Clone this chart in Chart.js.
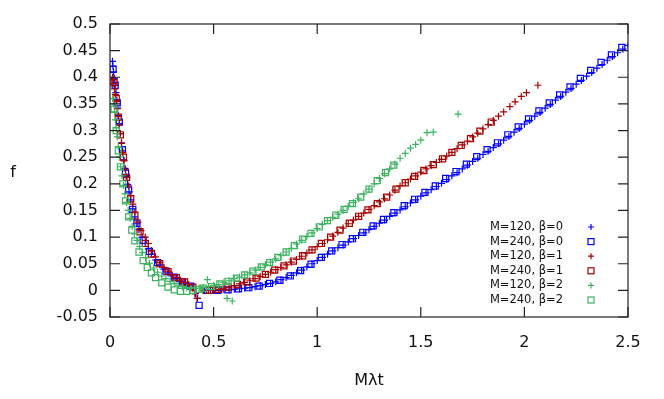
<!DOCTYPE html>
<html>
<head>
<meta charset="utf-8">
<script src="https://cdn.jsdelivr.net/npm/chart.js@4/dist/chart.umd.min.js"></script>
<style>
  html, body { margin: 0; padding: 0; background: #fff; }
  #wrap { width: 664px; height: 399px; }
</style>
</head>
<body>
<div id="wrap"><canvas id="chart" width="664" height="399"></canvas></div>
<script>
// ---- data ----
const xTicks = [0, 0.5, 1, 1.5, 2, 2.5];
const seriesLabels = ['M=120, β=0', 'M=240, β=0', 'M=120, β=1', 'M=240, β=1', 'M=120, β=2', 'M=240, β=2'];

// M=120, beta=0 (blue +)
const b0m120x = [0.012, 0.014, 0.017, 0.021, 0.025, 0.029, 0.033, 0.037, 0.041, 0.045, 0.05, 0.055, 0.06, 0.066, 0.072, 0.078, 0.085, 0.092, 0.1, 0.11, 0.12, 0.13, 0.14, 0.155, 0.17, 0.185, 0.2, 0.22, 0.24, 0.26, 0.28, 0.3, 0.32, 0.34, 0.36, 0.38, 0.4, 0.412, 0.422,
  0.45, 0.475, 0.5, 0.525, 0.55, 0.575, 0.6, 0.625, 0.65, 0.675, 0.7, 0.725, 0.75, 0.775, 0.8, 0.825, 0.85, 0.875, 0.9, 0.925, 0.95, 0.975,
  1.0, 1.025, 1.05, 1.075, 1.1, 1.125, 1.15, 1.175, 1.2, 1.225, 1.25, 1.275, 1.3, 1.325, 1.35, 1.375, 1.4, 1.425, 1.45, 1.475,
  1.5, 1.525, 1.55, 1.575, 1.6, 1.625, 1.65, 1.675, 1.7, 1.725, 1.75, 1.775, 1.8, 1.825, 1.85, 1.875, 1.9, 1.925, 1.95, 1.975,
  2.0, 2.025, 2.05, 2.075, 2.1, 2.125, 2.15, 2.175, 2.2, 2.225, 2.25, 2.275, 2.3, 2.325, 2.35, 2.375, 2.4, 2.425, 2.45, 2.475, 2.5];
const b0m120y = [0.43, 0.421, 0.41, 0.398, 0.385, 0.371, 0.357, 0.342, 0.328, 0.313, 0.294, 0.277, 0.262, 0.245, 0.229, 0.214, 0.199, 0.185, 0.17, 0.153, 0.138, 0.125, 0.114, 0.1, 0.088, 0.078, 0.068, 0.057, 0.048, 0.04, 0.033, 0.027, 0.022, 0.017, 0.013, 0.009, 0.005, -0.006, -0.015,
  0.0, 0.0, 0.0, 0.0, 0.001, 0.001, 0.002, 0.003, 0.004, 0.005, 0.007, 0.009, 0.011, 0.013, 0.016, 0.02, 0.024, 0.028, 0.033, 0.038, 0.044, 0.05,
  0.056, 0.062, 0.068, 0.074, 0.08, 0.085, 0.091, 0.097, 0.103, 0.108, 0.114, 0.12, 0.126, 0.132, 0.139, 0.145, 0.151, 0.157, 0.164, 0.17,
  0.177, 0.183, 0.189, 0.195, 0.201, 0.208, 0.215, 0.221, 0.228, 0.235, 0.242, 0.248, 0.255, 0.261, 0.268, 0.275, 0.282, 0.289, 0.297, 0.304,
  0.312, 0.319, 0.327, 0.334, 0.342, 0.349, 0.357, 0.364, 0.372, 0.379, 0.387, 0.394, 0.402, 0.409, 0.417, 0.424, 0.432, 0.439, 0.446, 0.453, 0.46];

// M=240, beta=0 (blue squares)
const b0m240x = [0.015, 0.025, 0.035, 0.045, 0.06, 0.075, 0.09, 0.11, 0.13, 0.16, 0.19, 0.23, 0.27, 0.31, 0.35, 0.39, 0.43,
  0.47, 0.52, 0.57, 0.62, 0.67, 0.72, 0.77, 0.82, 0.87, 0.92, 0.97, 1.02, 1.07, 1.12, 1.17, 1.22, 1.27, 1.32, 1.37, 1.42,
  1.47, 1.52, 1.57, 1.62, 1.67, 1.72, 1.77, 1.82, 1.87, 1.92, 1.97, 2.02, 2.07, 2.12, 2.17, 2.22, 2.27, 2.32, 2.37, 2.42, 2.47];
const b0m240y = [0.415, 0.385, 0.352, 0.316, 0.264, 0.22, 0.188, 0.152, 0.126, 0.094, 0.073, 0.052, 0.036, 0.025, 0.016, 0.008, -0.028,
  0.0, 0.0, 0.001, 0.003, 0.005, 0.008, 0.013, 0.019, 0.027, 0.037, 0.049, 0.062, 0.074, 0.086, 0.097, 0.109, 0.121, 0.133, 0.146, 0.159,
  0.171, 0.184, 0.196, 0.21, 0.223, 0.237, 0.251, 0.264, 0.277, 0.292, 0.307, 0.322, 0.337, 0.352, 0.367, 0.382, 0.398, 0.413, 0.428, 0.442, 0.456];

// M=120, beta=1 (red +)
const b1m120x = [0.012, 0.015, 0.018, 0.022, 0.026, 0.03, 0.035, 0.04, 0.045, 0.05, 0.056, 0.062, 0.068, 0.075, 0.082, 0.09, 0.1, 0.11, 0.12, 0.135, 0.15, 0.17, 0.185, 0.2, 0.22, 0.24, 0.26, 0.28, 0.3, 0.32, 0.34, 0.36, 0.38, 0.4, 0.41, 0.42,
  0.45, 0.475, 0.5, 0.525, 0.55, 0.575, 0.6, 0.625, 0.65, 0.675, 0.7, 0.725, 0.75, 0.775, 0.8, 0.825, 0.85, 0.875, 0.9, 0.925, 0.95, 0.975,
  1.0, 1.025, 1.05, 1.075, 1.1, 1.125, 1.15, 1.175, 1.2, 1.225, 1.25, 1.275, 1.3, 1.325, 1.35, 1.375, 1.4, 1.425, 1.45, 1.475,
  1.5, 1.525, 1.55, 1.575, 1.6, 1.625, 1.65, 1.675, 1.7, 1.725, 1.75, 1.775, 1.8, 1.825, 1.85, 1.875, 1.9, 1.93, 1.955, 1.985, 2.01, 2.065];
const b1m120y = [0.4, 0.395, 0.388, 0.378, 0.368, 0.356, 0.341, 0.326, 0.31, 0.294, 0.276, 0.259, 0.243, 0.227, 0.212, 0.196, 0.178, 0.162, 0.147, 0.128, 0.112, 0.1, 0.088, 0.075, 0.063, 0.052, 0.043, 0.036, 0.029, 0.024, 0.019, 0.015, 0.011, 0.004, -0.006, -0.015,
  0.0, 0.0, 0.001, 0.002, 0.004, 0.006, 0.009, 0.012, 0.015, 0.018, 0.022, 0.026, 0.03, 0.034, 0.039, 0.043, 0.048, 0.053, 0.058, 0.064, 0.07, 0.076,
  0.082, 0.088, 0.095, 0.102, 0.109, 0.117, 0.125, 0.132, 0.139, 0.145, 0.152, 0.159, 0.166, 0.172, 0.179, 0.188, 0.196, 0.202, 0.209, 0.215,
  0.222, 0.228, 0.234, 0.24, 0.246, 0.252, 0.259, 0.266, 0.273, 0.28, 0.288, 0.295, 0.303, 0.311, 0.319, 0.327, 0.335, 0.345, 0.354, 0.364, 0.371, 0.385];

// M=240, beta=1 (red squares)
const b1m240x = [0.02, 0.03, 0.04, 0.05, 0.065, 0.08, 0.1, 0.12, 0.145, 0.17, 0.2, 0.24, 0.28, 0.32, 0.36, 0.4,
  0.48, 0.525, 0.57, 0.615, 0.66, 0.705, 0.75, 0.795, 0.84, 0.885, 0.93, 0.975, 1.02, 1.065, 1.11, 1.155, 1.2,
  1.245, 1.29, 1.335, 1.38, 1.425, 1.47, 1.515, 1.56, 1.605, 1.65, 1.695, 1.74, 1.785, 1.84];
const b1m240y = [0.39, 0.36, 0.325, 0.292, 0.25, 0.212, 0.172, 0.14, 0.11, 0.088, 0.068, 0.05, 0.035, 0.024, 0.016, 0.006,
  0.0, 0.002, 0.006, 0.011, 0.016, 0.023, 0.03, 0.038, 0.046, 0.055, 0.065, 0.076, 0.088, 0.1, 0.113, 0.126, 0.139,
  0.151, 0.163, 0.175, 0.19, 0.202, 0.214, 0.225, 0.236, 0.247, 0.259, 0.272, 0.285, 0.299, 0.316];

// M=120, beta=2 (green +)
const b2m120x = [0.015, 0.018, 0.022, 0.026, 0.03, 0.035, 0.04, 0.046, 0.052, 0.058, 0.065, 0.072, 0.08, 0.088, 0.097, 0.107, 0.118, 0.13, 0.143, 0.157, 0.172, 0.19, 0.21, 0.23, 0.25, 0.27, 0.29, 0.31, 0.33, 0.35, 0.37, 0.39, 0.41, 0.43,
  0.45, 0.47, 0.475, 0.5, 0.525, 0.55, 0.565, 0.575, 0.59, 0.6, 0.625, 0.65, 0.675, 0.7, 0.725, 0.75, 0.775, 0.8, 0.825, 0.85, 0.875, 0.9, 0.925, 0.95, 0.975,
  1.0, 1.025, 1.05, 1.075, 1.1, 1.125, 1.15, 1.175, 1.2, 1.225, 1.25, 1.275, 1.3, 1.325, 1.35, 1.375, 1.4, 1.425, 1.45, 1.475, 1.5, 1.53, 1.56, 1.68];
const b2m120y = [0.36, 0.35, 0.335, 0.32, 0.305, 0.288, 0.27, 0.25, 0.232, 0.215, 0.197, 0.181, 0.165, 0.15, 0.135, 0.12, 0.106, 0.094, 0.082, 0.071, 0.061, 0.051, 0.042, 0.034, 0.027, 0.022, 0.017, 0.013, 0.01, 0.007, 0.005, 0.004, 0.004, 0.004,
  0.005, 0.02, 0.007, 0.009, 0.011, 0.015, -0.015, 0.018, -0.02, 0.022, 0.025, 0.029, 0.033, 0.038, 0.043, 0.048, 0.053, 0.059, 0.065, 0.072, 0.079, 0.087, 0.094, 0.101, 0.108,
  0.116, 0.124, 0.131, 0.137, 0.143, 0.15, 0.158, 0.165, 0.172, 0.181, 0.19, 0.2, 0.21, 0.219, 0.228, 0.237, 0.248, 0.257, 0.267, 0.274, 0.282, 0.296, 0.297, 0.331];

// M=240, beta=2 (green squares)
const b2m240x = [0.02, 0.03, 0.04, 0.05, 0.062, 0.075, 0.09, 0.105, 0.12, 0.14, 0.16, 0.18, 0.2, 0.22, 0.25, 0.28, 0.31, 0.34, 0.37, 0.4, 0.43,
  0.45, 0.49, 0.53, 0.57, 0.61, 0.65, 0.69, 0.73, 0.77, 0.81, 0.85, 0.89, 0.93, 0.97, 1.01, 1.05, 1.09, 1.13, 1.17, 1.21, 1.25, 1.29, 1.33, 1.37];
const b2m240y = [0.34, 0.3, 0.262, 0.232, 0.2, 0.168, 0.138, 0.113, 0.093, 0.072, 0.056, 0.043, 0.033, 0.024, 0.014, 0.006, 0.001, -0.002, -0.002, 0.0, 0.002,
  0.004, 0.007, 0.012, 0.017, 0.023, 0.029, 0.036, 0.044, 0.052, 0.062, 0.072, 0.084, 0.096, 0.107, 0.119, 0.131, 0.141, 0.152, 0.163, 0.175, 0.19, 0.206, 0.221, 0.235];

const BLUE = '#0000ff', RED = '#a80000', GREEN = '#3cb35f';
const FONT = "'DejaVu Sans', Verdana, sans-serif";

const zip = (xs, ys) => xs.map((x, i) => ({ x, y: ys[i] }));

function mkSet(label, xs, ys, color, style, order) {
  const plus = style === 'cross';
  return {
    label,
    data: zip(xs, ys),
    borderColor: color,
    backgroundColor: 'rgba(0,0,0,0)',
    pointStyle: style,
    pointRadius: plus ? 3.5 : 4.3,
    pointBorderWidth: 1.2,
    showLine: false,
    order,
  };
}

const datasets = [
  mkSet(seriesLabels[0], b0m120x, b0m120y, BLUE, 'cross', 5),
  mkSet(seriesLabels[1], b0m240x, b0m240y, BLUE, 'rect', 4),
  mkSet(seriesLabels[2], b1m120x, b1m120y, RED, 'cross', 3),
  mkSet(seriesLabels[3], b1m240x, b1m240y, RED, 'rect', 2),
  mkSet(seriesLabels[4], b2m120x, b2m120y, GREEN, 'cross', 1),
  mkSet(seriesLabels[5], b2m240x, b2m240y, GREEN, 'rect', 0),
];

// gnuplot-like frame: border, inward ticks on all four sides, key and axis titles
const frame = {
  id: 'frame',
  afterDatasetsDraw(chart) {
    const { ctx, chartArea: a, scales: { x, y } } = chart;
    ctx.save();
    ctx.strokeStyle = '#222';
    ctx.lineWidth = 1.2;
    ctx.strokeRect(a.left, a.top, a.right - a.left, a.bottom - a.top);
    ctx.beginPath();
    x.ticks.forEach(t => {
      const px = x.getPixelForValue(t.value);
      ctx.moveTo(px, a.bottom); ctx.lineTo(px, a.bottom - 10);
      ctx.moveTo(px, a.top); ctx.lineTo(px, a.top + 10);
    });
    y.ticks.forEach(t => {
      const py = y.getPixelForValue(t.value);
      ctx.moveTo(a.left, py); ctx.lineTo(a.left + 10, py);
      ctx.moveTo(a.right, py); ctx.lineTo(a.right - 10, py);
    });
    ctx.stroke();

    // key
    ctx.font = '11.5px ' + FONT;
    ctx.fillStyle = '#111';
    ctx.textAlign = 'right';
    ctx.textBaseline = 'middle';
    datasets.forEach((ds, i) => {
      const ty = 227 + i * 14.6;
      ctx.fillText(ds.label, 563, ty);
      ctx.strokeStyle = ds.borderColor;
      ctx.lineWidth = 1.2;
      ctx.beginPath();
      if (ds.pointStyle === 'cross') {
        ctx.moveTo(588, ty); ctx.lineTo(594, ty);
        ctx.moveTo(591, ty - 3); ctx.lineTo(591, ty + 3);
        ctx.stroke();
      } else {
        ctx.strokeRect(588, ty - 3, 6, 6);
      }
    });

    // axis titles
    ctx.font = '16px ' + FONT;
    ctx.fillStyle = '#111';
    ctx.textAlign = 'center';
    ctx.fillText('f', 13, 173);
    ctx.fillText('Mλt', (a.left + a.right) / 2, 381);
    ctx.restore();
  }
};

new Chart(document.getElementById('chart'), {
  type: 'scatter',
  data: { datasets },
  options: {
    responsive: false,
    animation: false,
    devicePixelRatio: 1,
    layout: { padding: { top: 24, right: 36, left: 0, bottom: 0 } },
    plugins: { legend: { display: false }, tooltip: { enabled: false } },
    scales: {
      x: {
        type: 'linear', min: 0, max: 2.5,
        afterBuildTicks: s => { s.ticks = xTicks.map(v => ({ value: v })); },
        afterFit: s => { s.height = 82; },
        grid: { display: false, drawTicks: false },
        border: { display: false },
        ticks: { color: '#111', padding: 16, font: { family: FONT, size: 16 }, callback: v => String(v) }
      },
      y: {
        type: 'linear', min: -0.05, max: 0.5,
        ticks: { stepSize: 0.05, color: '#111', padding: 12, font: { family: FONT, size: 16 },
                 callback: v => String(+v.toFixed(2)) },
        afterFit: s => { s.width = 110; },
        grid: { display: false, drawTicks: false },
        border: { display: false }
      }
    }
  },
  plugins: [frame]
});
</script>
</body>
</html>
